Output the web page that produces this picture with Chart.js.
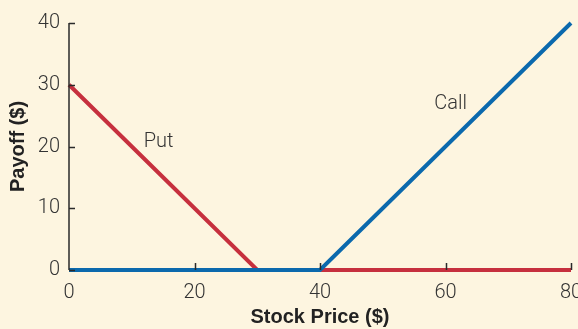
<!DOCTYPE html>
<html>
<head>
<meta charset="utf-8">
<script src="https://cdn.jsdelivr.net/npm/chart.js@4/dist/chart.umd.min.js"></script>
<style>
html,body{margin:0;padding:0;background:#fdf5e0;overflow:hidden;}
#wrap{width:578px;height:329px;position:relative;}
</style>
</head>
<body>
<div id="wrap"><canvas id="c" width="578" height="329"></canvas></div>
<script>
const stockPrices = [0, 30, 40, 80];
const callPayoff = [0, 0, 0, 40];
const putPayoff = [30, 0, 0, 0];
const xTicks = [0, 20, 40, 60, 80];
const yTicks = [0, 10, 20, 30, 40];
const seriesLabels = ['Call', 'Put'];

const textColor = '#333333';
const axisColor = '#2a2a2a';
const tickFont = {family: "Roboto, 'Liberation Sans', Arial, sans-serif", size: 20, weight: '300'};
const titleFont = {family: "'Liberation Sans', Arial, sans-serif", size: 20, weight: 'bold'};

const inwardTicks = {
  id: 'inwardTicks',
  afterDatasetsDraw(chart) {
    const {ctx, scales: {x, y}, chartArea: a} = chart;
    ctx.save();
    ctx.strokeStyle = axisColor;
    ctx.lineWidth = 1.5;
    ctx.beginPath();
    ctx.moveTo(a.left, a.top);
    ctx.lineTo(a.left, a.bottom);
    xTicks.forEach(v => {
      if (v === 0) return;
      const px = Math.round(x.getPixelForValue(v)) + 0.5;
      ctx.moveTo(px, a.bottom);
      ctx.lineTo(px, a.bottom - 7);
    });
    yTicks.forEach(v => {
      const py = Math.round(y.getPixelForValue(v)) + 0.5;
      ctx.moveTo(a.left, py);
      ctx.lineTo(a.left + 6, py);
    });
    ctx.stroke();
    ctx.restore();
  }
};

const seriesLabelPlugin = {
  id: 'seriesLabels',
  afterDatasetsDraw(chart) {
    const {ctx, scales: {x, y}} = chart;
    ctx.save();
    ctx.fillStyle = textColor;
    ctx.font = "300 20px Roboto, 'Liberation Sans', Arial, sans-serif";
    ctx.textBaseline = 'middle';
    ctx.textAlign = 'left';
    ctx.fillText(seriesLabels[0], x.getPixelForValue(58.2), y.getPixelForValue(26.9));
    ctx.fillText(seriesLabels[1], x.getPixelForValue(11.9), y.getPixelForValue(20.7));
    ctx.restore();
  }
};

new Chart(document.getElementById('c'), {
  type: 'line',
  data: {
    datasets: [
      {
        label: seriesLabels[0],
        data: stockPrices.map((p, i) => ({x: p, y: callPayoff[i]})),
        borderColor: '#0b69ad',
        borderWidth: 4,
        pointRadius: 0,
        tension: 0,
        borderCapStyle: 'butt'
      },
      {
        label: seriesLabels[1],
        data: stockPrices.map((p, i) => ({x: p, y: putPayoff[i]})),
        borderColor: '#c6303e',
        borderWidth: 4,
        pointRadius: 0,
        tension: 0,
        borderCapStyle: 'butt'
      }
    ]
  },
  options: {
    responsive: false,
    animation: false,
    clip: false,
    layout: {padding: {top: 23, right: 7, left: 0, bottom: 0}},
    plugins: {legend: {display: false}, tooltip: {enabled: false}},
    scales: {
      x: {
        type: 'linear',
        min: 0, max: 80,
        afterBuildTicks: s => { s.ticks = xTicks.map(v => ({value: v})); },
        afterFit: s => { s.height = 59; s.paddingLeft = 0; s.paddingRight = 0; },
        grid: {display: false, drawTicks: false},
        border: {display: false},
        ticks: {color: textColor, font: tickFont, padding: 11, maxRotation: 0, autoSkip: false},
        title: {display: true, text: 'Stock Price ($)', color: '#222', font: titleFont, padding: {top: 0, bottom: 0}}
      },
      y: {
        min: 0, max: 40,
        afterBuildTicks: s => { s.ticks = yTicks.map(v => ({value: v})); },
        afterFit: s => { s.width = 69; s.paddingTop = 0; s.paddingBottom = 0; },
        grid: {display: false, drawTicks: false},
        border: {display: false},
        ticks: {color: textColor, font: tickFont, padding: 9},
        title: {display: true, text: 'Payoff ($)', color: '#222', font: titleFont, padding: {top: 6, bottom: 0}}
      }
    }
  },
  plugins: [inwardTicks, seriesLabelPlugin]
});
</script>
</body>
</html>
